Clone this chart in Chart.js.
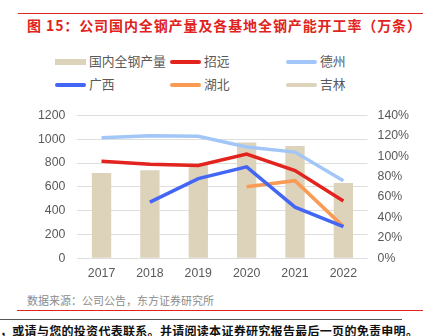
<!DOCTYPE html>
<html>
<head>
<meta charset="utf-8">
<script src="https://cdn.jsdelivr.net/npm/chart.js@4"></script>
<style>
  body { margin: 0; width: 423px; height: 336px; background: #fff; position: relative; overflow: hidden;
         font-family: "Noto Sans CJK SC", "Noto Sans", sans-serif; }
  #topLine { position: absolute; left: 18px; right: 0; top: 13px; height: 1px; background: #e0231c; }
  #title { position: absolute; left: 27px; top: 15px; font-size: 14px; letter-spacing: 0.9px; font-weight: bold; color: #e0231c; white-space: nowrap; }
  #legend { position: absolute; left: 55px; top: 51px; width: 360px; }
  .item { position: absolute; font-size: 12.8px; color: #595959; white-space: nowrap; height: 20px; line-height: 20px; }
  .sw { display: inline-block; width: 31px; height: 4px; border-radius: 2px; vertical-align: middle; margin-right: 3px; position: relative; top: -1px; }
  #chartBox { position: absolute; left: 0; top: 96px; width: 423px; height: 185px; }
  #source { position: absolute; left: 27px; top: 292px; font-size: 11px; color: #8c8c8c; white-space: nowrap; }
  #redLine { position: absolute; left: 17px; right: 0; top: 310px; height: 1px; background: #e0231c; }
  #grayLine { position: absolute; left: 0; width: 402px; top: 319px; height: 1px; background: #555; }
  #foot { position: absolute; left: 0; top: 322px; font-size: 12px; letter-spacing: 0.3px; font-weight: bold; color: #111; white-space: nowrap; }
</style>
</head>
<body>
<div id="topLine"></div>
<div id="title">图 15：公司国内全钢产量及各基地全钢产能开工率（万条）</div>
<div id="legend"></div>
<div id="chartBox"><canvas id="myChart" width="423" height="185"></canvas></div>
<div id="source">数据来源：公司公告，东方证券研究所</div>
<div id="redLine"></div>
<div id="grayLine"></div>
<div id="foot">，或请与您的投资代表联系。并请阅读本证券研究报告最后一页的免责申明。</div>
<script>
// Chart data
const years = ['2017', '2018', '2019', '2020', '2021', '2022'];
const output = [717, 740, 792, 972, 942, 633];          // 国内全钢产量 (万条)
const zhaoyuan = [95, 92, 91, 102, 86, 56];              // 招远 (%)
const dezhou = [118, 120, 119.5, 109, 104, 76];          // 德州 (%)
const guangxi = [null, 55, 78, 89.5, 50, 31];            // 广西 (%)
const hubei = [null, null, null, 70, 76, 31];            // 湖北 (%)
const jilin = [null, null, null, null, null, null];      // 吉林 (%)
const leftTicks = [0, 200, 400, 600, 800, 1000, 1200];
const rightTicks = [0, 20, 40, 60, 80, 100, 120, 140];

const beige = '#ddd3bb';

function lineSet(label, values, color) {
    return {
        type: 'line',
        label: label,
        data: values,
        borderColor: color,
        backgroundColor: color,
        borderWidth: 3.5,
        pointRadius: 0,
        tension: 0,
        yAxisID: 'y1',
        order: 1
    };
}

const chartData = {
    labels: years,
    datasets: [
        {
            type: 'bar',
            label: '国内全钢产量',
            data: output,
            backgroundColor: beige,
            barPercentage: 0.4,
            categoryPercentage: 1,
            yAxisID: 'y',
            order: 2
        },
        lineSet('招远', zhaoyuan, '#e3231d'),
        lineSet('德州', dezhou, '#a3c6f8'),
        lineSet('广西', guangxi, '#4466f5'),
        lineSet('湖北', hubei, '#f99a55'),
        lineSet('吉林', jilin, beige)
    ]
};

const tickFont = { family: 'Liberation Sans, Arial, sans-serif', size: 12.3 };

const chartConfig = {
    type: 'bar',
    data: chartData,
    options: {
        responsive: false,
        animation: false,
        layout: { padding: { top: 6, left: 26, right: 4, bottom: 0 } },
        plugins: {
            legend: { display: false },
            tooltip: { enabled: false }
        },
        scales: {
            x: {
                grid: { display: false },
                border: { display: false },
                ticks: { color: '#595959', font: tickFont, padding: 0 }
            },
            y: {
                position: 'left',
                min: 0,
                max: 1200,
                afterBuildTicks: axis => { axis.ticks = leftTicks.map(v => ({ value: v })); },
                grid: { color: '#dedede', lineWidth: 1, drawTicks: false },
                border: { display: false },
                ticks: { color: '#595959', font: tickFont, padding: 12, callback: v => String(v) }
            },
            y1: {
                position: 'right',
                min: 0,
                max: 140,
                afterBuildTicks: axis => { axis.ticks = rightTicks.map(v => ({ value: v })); },
                grid: { display: false, drawTicks: false },
                border: { display: false },
                ticks: { color: '#595959', font: tickFont, padding: 10, callback: v => v + '%' }
            }
        }
    }
};

const myChart = new Chart(document.getElementById('myChart'), chartConfig);

// Legend in a 3 x 2 grid, built from the datasets
const legendBox = document.getElementById('legend');
const colX = [0, 115, 231];
myChart.data.datasets.forEach((ds, i) => {
    const item = document.createElement('div');
    item.className = 'item';
    item.style.left = colX[i % 3] + 'px';
    item.style.top = (Math.floor(i / 3) * 23) + 'px';
    const sw = document.createElement('span');
    sw.className = 'sw';
    const c = ds.type === 'bar' ? ds.backgroundColor : ds.borderColor;
    sw.style.background = c;
    if (ds.type === 'bar') { sw.style.height = '6px'; sw.style.borderRadius = '0'; }
    item.appendChild(sw);
    item.appendChild(document.createTextNode(ds.label));
    legendBox.appendChild(item);
});
</script>
</body>
</html>
